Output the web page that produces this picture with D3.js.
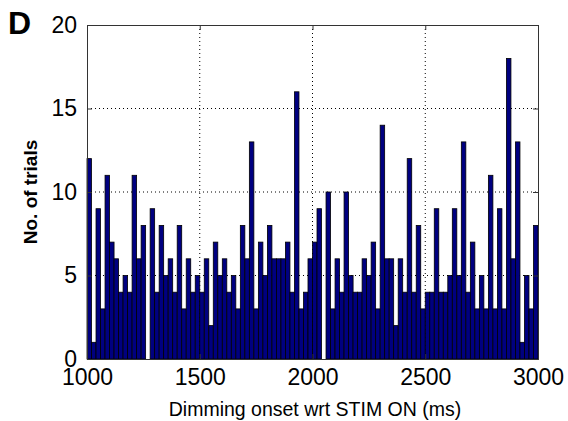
<!DOCTYPE html>
<html>
<head>
<meta charset="utf-8">
<script src="https://cdn.jsdelivr.net/npm/d3@7"></script>
<style>
  body { margin: 0; background: #fff; }
  text { font-family: Arial, "Liberation Sans", sans-serif; }
</style>
</head>
<body>
<svg id="chart"></svg>
<script>
// histogram of dimming onset, 20 ms bins from 1000 to 3000
const binStart = 1000
const binWidth = 20
const counts = [
  12, 1, 9, 3, 11, 7, 6, 4, 5, 4,
  11, 6, 8, 0, 9, 4, 8, 5, 6, 4,
  8, 3, 6, 4, 5, 4, 6, 2, 7, 5,
  6, 4, 5, 3, 8, 6, 13, 3, 7, 5,
  8, 6, 6, 6, 7, 4, 16, 3, 4, 6,
  7, 9, 0, 10, 3, 6, 4, 10, 5, 4,
  4, 6, 5, 7, 3, 14, 6, 6, 2, 6,
  4, 12, 4, 8, 3, 4, 4, 9, 4, 4,
  5, 9, 5, 13, 4, 7, 3, 5, 3, 11,
  3, 9, 3, 18, 6, 13, 1, 5, 3, 8
]
const xTicks = [1000, 1500, 2000, 2500, 3000]
const yTicks = [0, 5, 10, 15, 20]

const W = 568, H = 421
const margin = {top: 25, right: 30, bottom: 62, left: 87}
const width = W - margin.left - margin.right
const height = H - margin.top - margin.bottom

const svg = d3.select("#chart").attr("width", W).attr("height", H)
const g = svg.append("g").attr("transform", "translate(" + margin.left + "," + margin.top + ")")

const x = d3.scaleLinear().domain([1000, 3000]).range([0, width])
const y = d3.scaleLinear().domain([0, 20]).range([height, 0])

const bins = counts.map((c, i) => ({x0: binStart + i * binWidth, x1: binStart + (i + 1) * binWidth, n: c}))

// dotted grid under the bars
g.selectAll(".gx").data(xTicks.slice(1, -1)).enter().append("line")
  .attr("x1", d => x(d)).attr("x2", d => x(d))
  .attr("y1", 0).attr("y2", height)
  .attr("stroke", "#000").attr("stroke-width", 1).attr("stroke-dasharray", "1,3")
g.selectAll(".gy").data(yTicks.slice(1, -1)).enter().append("line")
  .attr("x1", 0).attr("x2", width)
  .attr("y1", d => y(d)).attr("y2", d => y(d))
  .attr("stroke", "#000").attr("stroke-width", 1).attr("stroke-dasharray", "1,3")

// bars
g.selectAll("rect.bar").data(bins.filter(d => d.n > 0)).enter().append("rect")
  .attr("class", "bar")
  .attr("x", d => x(d.x0))
  .attr("y", d => y(d.n))
  .attr("width", d => x(d.x1) - x(d.x0))
  .attr("height", d => y(0) - y(d.n))
  .attr("fill", "#000080")
  .attr("stroke", "#000")
  .attr("stroke-width", 0.8)

// box and axes, ticks point inward like matlab
const xAxis = g.append("g").attr("transform", "translate(0," + height + ")")
  .call(d3.axisBottom(x).tickValues(xTicks).tickSize(-5).tickPadding(10).tickFormat(d3.format("d")))
const yAxis = g.append("g")
  .call(d3.axisLeft(y).tickValues(yTicks).tickSize(-5).tickPadding(10))
g.append("g").call(d3.axisTop(x).tickValues(xTicks).tickSize(-5).tickFormat(""))
g.append("g").attr("transform", "translate(" + width + ",0)")
  .call(d3.axisRight(y).tickValues(yTicks).tickSize(-5).tickFormat(""))

g.selectAll(".domain").attr("stroke", "#333")
g.selectAll(".tick line").attr("stroke", "#333")
xAxis.selectAll("text").attr("font-size", 23).attr("fill", "#000")
  .attr("font-family", "Arial, 'Liberation Sans', sans-serif")
yAxis.selectAll("text").attr("font-size", 23).attr("fill", "#000")
  .attr("font-family", "Arial, 'Liberation Sans', sans-serif")

// labels
svg.append("text")
  .attr("x", 315).attr("y", 416)
  .attr("text-anchor", "middle").attr("font-size", 19.5)
  .text("Dimming onset wrt STIM ON (ms)")

svg.append("text")
  .attr("transform", "translate(37,192) rotate(-90)")
  .attr("text-anchor", "middle").attr("font-size", 19).attr("font-weight", "bold")
  .text("No. of trials")

svg.append("text")
  .attr("x", 8).attr("y", 34)
  .attr("font-size", 32).attr("font-weight", "bold")
  .text("D")
</script>
</body>
</html>
